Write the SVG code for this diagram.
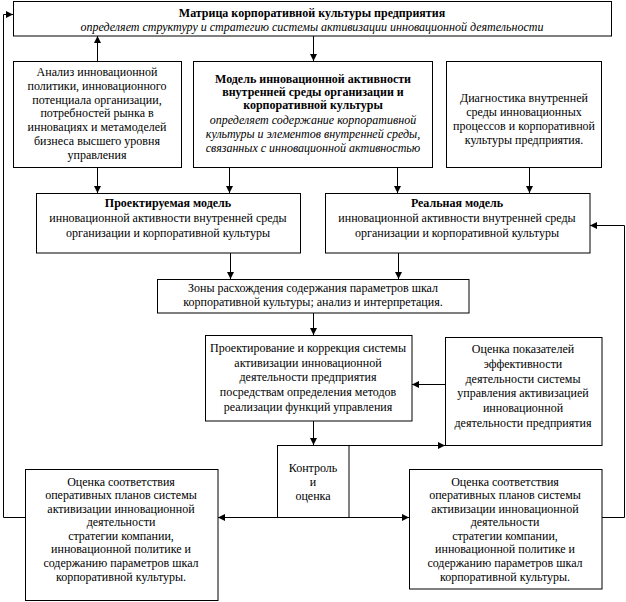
<svg xmlns="http://www.w3.org/2000/svg" width="626" height="602" viewBox="0 0 626 602">
<defs>
<marker id="ah" markerWidth="8" markerHeight="8" refX="7" refY="4" orient="auto" markerUnits="userSpaceOnUse"><path d="M0,0.5 L7,4 L0,7.5 z" fill="#000"/></marker>
<style>
rect{fill:#fff;stroke:#000;stroke-width:1}
text{font-family:"Liberation Serif","Times New Roman",serif;font-size:12px;fill:#000;text-anchor:middle}
.b{font-weight:bold}
.i{font-style:italic}
.c line,.c polyline{stroke:#000;stroke-width:1;fill:none;marker-end:url(#ah)}
</style>
</defs>
<rect x="0" y="0" width="626" height="602" style="fill:#fff;stroke:none"/>
<g class="c" id="connectors">
<line x1="313.5" y1="36" x2="313.5" y2="61"/>
<line x1="97.5" y1="61" x2="97.5" y2="36"/>
<polyline points="25,517.5 3.5,517.5 3.5,14.5 13,14.5"/>
<line x1="97.5" y1="168" x2="97.5" y2="193"/>
<line x1="229.5" y1="168" x2="229.5" y2="193"/>
<line x1="397.5" y1="168" x2="397.5" y2="193"/>
<line x1="529.5" y1="168" x2="529.5" y2="193"/>
<line x1="230.5" y1="253" x2="230.5" y2="279"/>
<line x1="398.5" y1="253" x2="398.5" y2="279"/>
<line x1="313.5" y1="313" x2="313.5" y2="335"/>
<line x1="445" y1="384.5" x2="412" y2="384.5"/>
<line x1="313.5" y1="421" x2="313.5" y2="445"/>
<line x1="349" y1="445.5" x2="445" y2="445.5"/>
<line x1="277" y1="517.5" x2="218" y2="517.5"/>
<line x1="349" y1="517.5" x2="409" y2="517.5"/>
<polyline points="602,517.5 624.5,517.5 624.5,225.5 590,225.5"/>
</g>
<g id="matrix">
<rect x="13.5" y="1.5" width="598" height="34.5"/>
<text x="312" y="17" class="b">Матрица корпоративной культуры предприятия</text>
<text x="312" y="31" class="i">определяет структуру и стратегию системы активизации инновационной деятельности</text>
</g>
<g id="analysis">
<rect x="13.5" y="61.5" width="168" height="106"/>
<text x="97" y="76">Анализ инновационной</text>
<text x="97" y="90">политики, инновационного</text>
<text x="97" y="104">потенциала организации,</text>
<text x="97" y="117">потребностей рынка в</text>
<text x="97" y="131">инновациях и метамоделей</text>
<text x="97" y="145">бизнеса высшего уровня</text>
<text x="97" y="159">управления</text>
</g>
<g id="model">
<rect x="193.5" y="61.5" width="239" height="106"/>
<text x="313" y="83" class="b">Модель инновационной активности</text>
<text x="313" y="96" class="b">внутренней среды организации и</text>
<text x="313" y="109" class="b">корпоративной культуры</text>
<text x="313" y="124" class="i">определяет содержание корпоративной</text>
<text x="313" y="138" class="i">культуры и элементов внутренней среды,</text>
<text x="313" y="152" class="i">связанных с инновационной активностью</text>
</g>
<g id="diagnostics">
<rect x="446.5" y="61.5" width="155" height="106"/>
<text x="524" y="102">Диагностика внутренней</text>
<text x="524" y="116">среды инновационных</text>
<text x="524" y="130">процессов и корпоративной</text>
<text x="524" y="144">культуры предприятия.</text>
</g>
<g id="designed">
<rect x="36.5" y="193.5" width="264" height="59.5"/>
<text x="168" y="207" class="b">Проектируемая модель</text>
<text x="168" y="222">инновационной активности внутренней среды</text>
<text x="168" y="237">организации и корпоративной культуры</text>
</g>
<g id="real">
<rect x="325.5" y="193.5" width="264.5" height="59.5"/>
<text x="457" y="207" class="b">Реальная модель</text>
<text x="457" y="222">инновационной активности внутренней среды</text>
<text x="457" y="237">организации и корпоративной культуры</text>
</g>
<g id="zones">
<rect x="157.5" y="279.5" width="311.5" height="33.5"/>
<text x="313" y="292">Зоны расхождения содержания параметров шкал</text>
<text x="313" y="306">корпоративной культуры; анализ и интерпретация.</text>
</g>
<g id="design-correction">
<rect x="205.5" y="335.5" width="206.5" height="85.5"/>
<text x="308" y="352">Проектирование и коррекция системы</text>
<text x="308" y="367">активизации инновационной</text>
<text x="308" y="381">деятельности предприятия</text>
<text x="308" y="396">посредствам определения методов</text>
<text x="308" y="411">реализации функций управления</text>
</g>
<g id="indicators">
<rect x="445.5" y="337.5" width="156.5" height="108"/>
<text x="523" y="353">Оценка показателей</text>
<text x="523" y="368">эффективности</text>
<text x="523" y="383">деятельности системы</text>
<text x="523" y="397">управления активизацией</text>
<text x="523" y="412">инновационной</text>
<text x="523" y="427">деятельности предприятия</text>
</g>
<g id="control">
<rect x="277.5" y="445.5" width="71.5" height="72"/>
<text x="313" y="472">Контроль</text>
<text x="313" y="486">и</text>
<text x="313" y="500">оценка</text>
</g>
<g id="assessment-left">
<rect x="25.5" y="469.5" width="192.5" height="131"/>
<text x="121" y="486">Оценка соответствия</text>
<text x="121" y="499">оперативных планов системы</text>
<text x="121" y="513">активизации инновационной</text>
<text x="121" y="526">деятельности</text>
<text x="121" y="540">стратегии компании,</text>
<text x="121" y="553">инновационной политике и</text>
<text x="121" y="567">содержанию параметров шкал</text>
<text x="121" y="581">корпоративной культуры.</text>
</g>
<g id="assessment-right">
<rect x="409.5" y="469.5" width="192.5" height="119.5"/>
<text x="505" y="486">Оценка соответствия</text>
<text x="505" y="499">оперативных планов системы</text>
<text x="505" y="513">активизации инновационной</text>
<text x="505" y="526">деятельности</text>
<text x="505" y="540">стратегии компании,</text>
<text x="505" y="553">инновационной политике и</text>
<text x="505" y="567">содержанию параметров шкал</text>
<text x="505" y="581">корпоративной культуры.</text>
</g>
</svg>
